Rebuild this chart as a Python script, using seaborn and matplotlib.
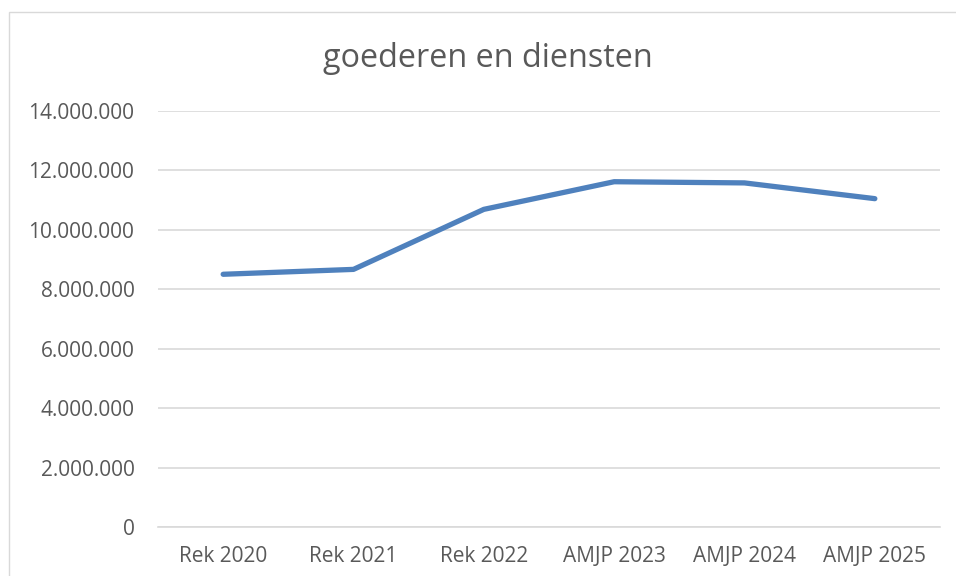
import matplotlib
matplotlib.use("Agg")
import matplotlib.pyplot as plt
import seaborn as sns
import pandas as pd
from matplotlib.patches import Rectangle
from matplotlib.ticker import FuncFormatter, FixedLocator

categories = ["Rek 2020", "Rek 2021", "Rek 2022", "AMJP 2023", "AMJP 2024", "AMJP 2025"]
values = [8505000, 8670000, 10690000, 11620000, 11580000, 11050000]

df = pd.DataFrame({"jaar": categories, "bedrag": values})

sns.set_theme(style="white")
plt.rcParams["font.family"] = ["Open Sans", "DejaVu Sans"]
grey_text = "#595959"
grid_col = "#d9d9d9"

fig = plt.figure(figsize=(9.56, 5.76), dpi=100)
ax = fig.add_axes([158 / 956, 1 - 527 / 576, (940 - 158) / 956, (527 - 111) / 576])

# chart border (light grey frame)
fig.patches.append(Rectangle((9 / 956, -0.1), 1.2, 1.1 - 12 / 576, transform=fig.transFigure,
                             fill=False, edgecolor=grid_col, linewidth=1.0))

x = list(range(len(categories)))
sns.lineplot(x=x, y=df["bedrag"], ax=ax, color="#4f81bd", linewidth=3.8,
             solid_capstyle="round", solid_joinstyle="round")

ax.set_xlim(-0.5, len(categories) - 0.5)
ax.set_ylim(0, 14000000)
ax.set_yticks(range(0, 14000001, 2000000))
ax.yaxis.set_major_formatter(FuncFormatter(lambda v, p: f"{int(v):,}".replace(",", ".")))
ax.grid(axis="y", color=grid_col, linewidth=1.2)
ax.set_axisbelow(True)

ax.set_xticks(x)
ax.set_xticklabels(categories)
ax.xaxis.set_minor_locator(FixedLocator([i - 0.5 for i in range(len(categories) + 1)]))
ax.tick_params(axis="x", which="major", length=0, pad=14, labelsize=15, labelcolor=grey_text)
ax.tick_params(axis="x", which="minor", length=6, width=1.2, color=grid_col, direction="out")
ax.tick_params(axis="y", length=0, pad=17, labelsize=15, labelcolor=grey_text)

for side in ["top", "right", "left"]:
    ax.spines[side].set_visible(False)
ax.spines["bottom"].set_color(grid_col)
ax.spines["bottom"].set_linewidth(1.2)
ax.set_xlabel("")
ax.set_ylabel("")

fig.text(488 / 956, 1 - 67 / 576, "goederen en diensten", ha="center", va="baseline",
         fontsize=23.3, color=grey_text)

fig.savefig("out.png", dpi=100)
